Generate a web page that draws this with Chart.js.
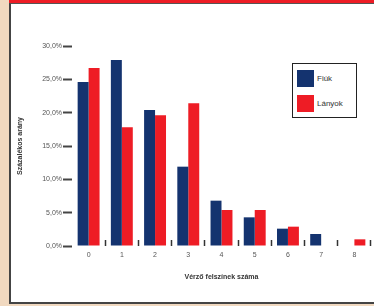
<!DOCTYPE html>
<html lang="hu">
<head>
<meta charset="UTF-8">
<title>Vérző felszínek száma</title>
<script src="https://cdn.jsdelivr.net/npm/chart.js"></script>
<style>
    body { margin: 0; width: 374px; height: 306px; background: #f1d9c0; position: relative; overflow: hidden; font-family: Arial, 'Liberation Sans', sans-serif; }
    .red-band { position: absolute; left: 9px; top: 0; width: 365px; height: 3px; background: #ee1c25; }
    .panel { position: absolute; left: 9px; top: 3px; width: 363px; height: 298px; background: #fff;
             border-top: 1px solid #555; border-left: 2px solid #444; border-bottom: 2px solid #444; }
    .wrap { position: absolute; left: 0; top: 0; width: 374px; height: 306px; }
    .legend { position: absolute; left: 292px; top: 63px; width: 63px; height: 53px; border: 1.5px solid #222; background: #fff; }
    .legend .item { position: absolute; left: 4px; height: 17px; display: flex; align-items: center; font-size: 8px; color: #333; }
    .legend .sw { width: 17px; height: 17px; margin-right: 3px; }
</style>
</head>
<body>
<div class="red-band"></div>
<div class="panel"></div>
<div class="wrap"><canvas id="chart" width="374" height="306"></canvas></div>
<div class="legend" id="legend"></div>
<script>
// adatok
const categories = ['0', '1', '2', '3', '4', '5', '6', '7', '8'];
const fiuk = [24.6, 27.9, 20.4, 11.9, 6.8, 4.3, 2.6, 1.8, 0];
const lanyok = [26.7, 17.8, 19.6, 21.4, 5.4, 5.4, 2.9, 0, 1.0];
const seriesNames = ['Fiúk', 'Lányok'];
const seriesColors = ['#14336f', '#ee1c25'];
const yTicks = [0, 5, 10, 15, 20, 25, 30];

const tickFont = { family: 'Arial', size: 7 };
const titleFont = { family: 'Arial', size: 7, weight: 'bold' };

new Chart(document.getElementById('chart'), {
    type: 'bar',
    data: {
        labels: categories,
        datasets: [
            { label: seriesNames[0], data: fiuk, backgroundColor: seriesColors[0], borderWidth: 0 },
            { label: seriesNames[1], data: lanyok, backgroundColor: seriesColors[1], borderWidth: 0 }
        ]
    },
    options: {
        responsive: false,
        animation: false,
        layout: { padding: { left: 11, top: 46, right: 3, bottom: 20 } },
        datasets: { bar: { barPercentage: 1, categoryPercentage: 0.66 } },
        plugins: { legend: { display: false }, tooltip: { enabled: false } },
        scales: {
            x: {
                afterFit: s => { s.height = 40; },
                border: { display: false },
                grid: {
                    offset: true, drawOnChartArea: false, drawTicks: true, tickLength: -6, tickWidth: 1.5,
                    // no mark at the outer edges
                    tickColor: ctx => (ctx.index === 0 || ctx.index === categories.length) ? 'rgba(0,0,0,0)' : '#333'
                },
                ticks: { font: tickFont, color: '#555', padding: 11, maxRotation: 0 },
                title: { display: true, text: 'Vérző felszínek száma', font: titleFont, color: '#333', padding: { top: 0, bottom: 5 } }
            },
            y: {
                min: 0, max: 30,
                afterFit: s => { s.width = 61; },
                afterBuildTicks: s => { s.ticks = yTicks.map(v => ({ value: v })); },
                border: { display: false },
                grid: { drawOnChartArea: false, drawTicks: true, tickLength: 9, tickColor: '#444', tickWidth: 2 },
                ticks: { font: tickFont, color: '#555', padding: 1,
                         callback: v => v.toFixed(1).replace('.', ',') + '%' },
                title: { display: true, text: 'Százalékos arány', font: titleFont, color: '#333', padding: { top: 5, bottom: 0 } }
            }
        }
    }
});

// jelmagyarázat
const legend = document.getElementById('legend');
seriesNames.forEach((name, i) => {
    const item = document.createElement('div');
    item.className = 'item';
    item.style.top = (6 + i * 25) + 'px';
    item.innerHTML = '<span class="sw" style="background:' + seriesColors[i] + '"></span>' + name;
    legend.appendChild(item);
});
</script>
</body>
</html>
